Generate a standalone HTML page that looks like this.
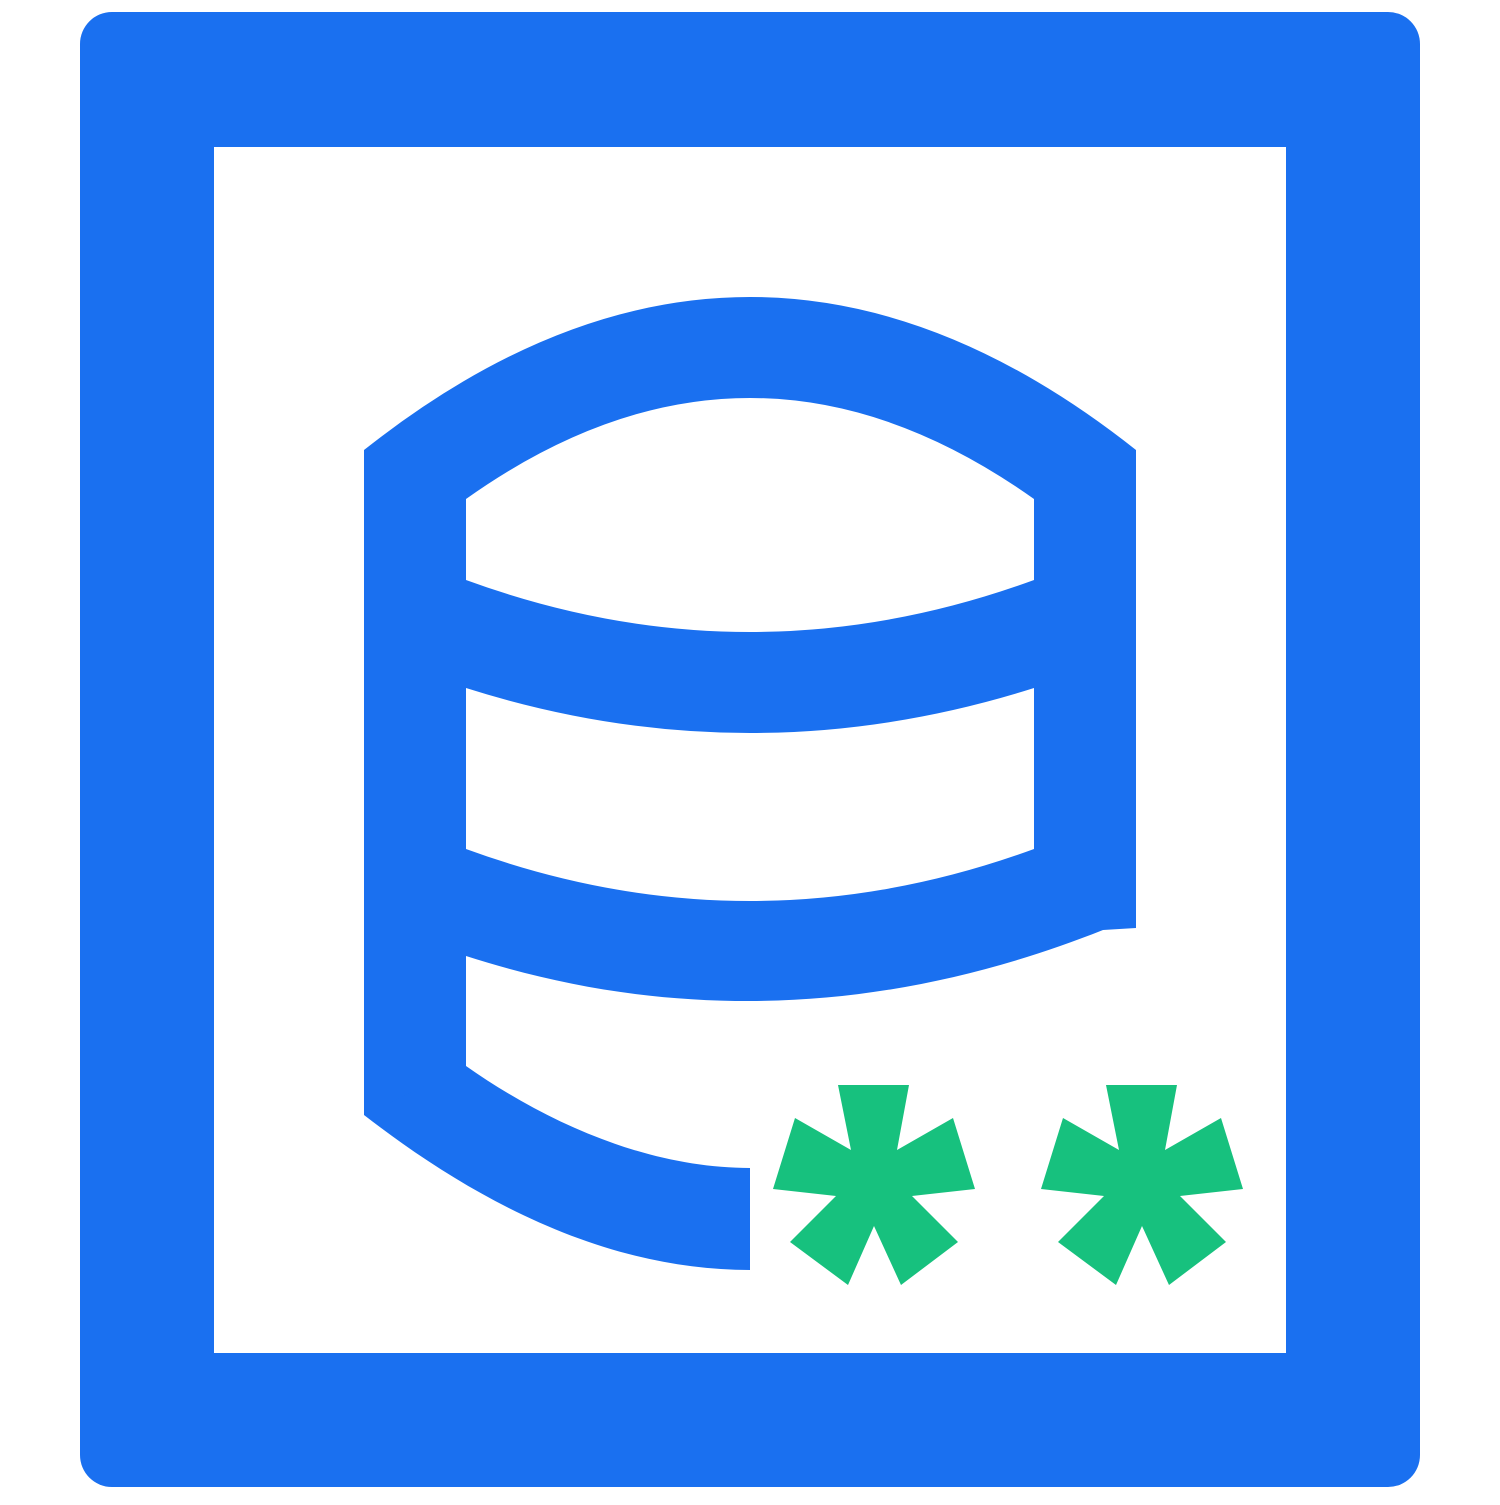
<!DOCTYPE html>
<html><head><style>html,body{margin:0;padding:0;background:#fff}</style></head>
<body>
<svg width="1500" height="1500" viewBox="0 0 1500 1500" xmlns="http://www.w3.org/2000/svg">
<rect x="80" y="12" width="1340" height="1475" rx="32" fill="#1A70F0"/>
<rect x="214" y="147" width="1072" height="1206" fill="#fff"/>
<g fill="#1A70F0">
<path d="M364,450 Q750,144 1136,450 L1034,499 Q750,297 466,499 Z"/>
<rect x="364" y="450" width="102" height="665"/>
<rect x="1034" y="450" width="102" height="478"/>
<path d="M466,580 Q750,684 1034,580 L1034,688 Q750,778 466,688 Z"/>
<path d="M466,849 Q750,953 1034,849 L1136,849 L1136,928 L1103,930 C990,975 870,1001 750,1001 C650,1001 560,986 466,956 Z"/>
<path d="M364,1115 C480,1205 610,1270 750,1270 L750,1168 C650,1168 550,1125 466,1066 Z"/>
</g>
<g fill="#17C17E">
<polygon points="838,1085 909,1085 897,1150 953,1118 975,1189 912,1196 958,1242 901,1285 874,1226 848,1285 790,1242 836,1196 773,1189 795,1118 851,1150"/>
<polygon transform="translate(268,0)" points="838,1085 909,1085 897,1150 953,1118 975,1189 912,1196 958,1242 901,1285 874,1226 848,1285 790,1242 836,1196 773,1189 795,1118 851,1150"/>
</g>
</svg>
</body></html>
